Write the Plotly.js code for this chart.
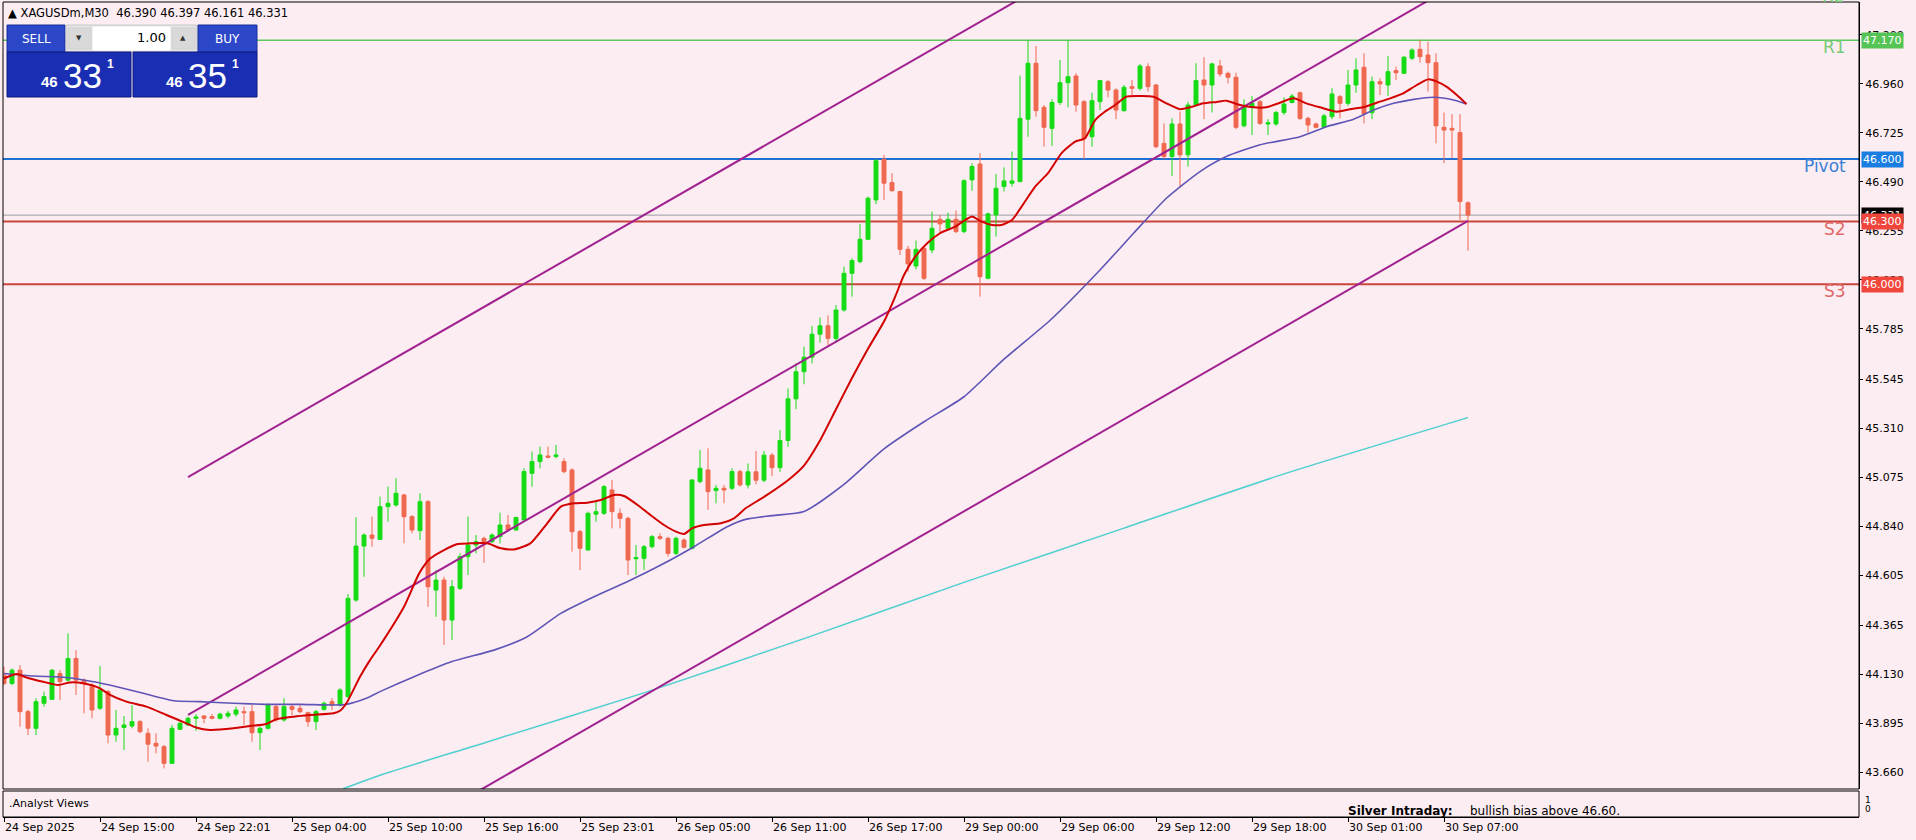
<!DOCTYPE html>
<html><head><meta charset="utf-8">
<script src="https://cdn.plot.ly/plotly-3.0.1.min.js"></script>
<style>html,body{margin:0;padding:0;background:#fcedf2;overflow:hidden}#chart{width:1916px;height:840px}</style>
</head><body><div id="chart"></div>
<script>
// ---------------- DATA ----------------
const opens  = [44.125,44.085,44.149,43.950,43.870,43.990,44.009,44.133,44.101,44.205,44.101,44.069,43.966,44.046,43.838,43.874,43.881,43.902,43.846,43.798,
43.782,43.702,43.865,43.886,43.918,43.929,43.926,43.918,43.929,43.938,43.950,43.950,43.849,43.870,43.974,43.910,43.974,43.966,43.945,43.902,
43.961,43.998,43.982,44.022,44.485,44.744,44.797,44.776,44.933,44.941,44.989,44.885,44.818,44.957,44.533,44.581,44.389,44.541,44.693,44.749,
44.781,44.765,44.789,44.845,44.821,44.869,45.093,45.149,45.176,45.173,45.149,45.109,44.813,44.725,44.897,44.901,45.013,44.901,44.877,44.683,
44.685,44.741,44.789,44.781,44.709,44.773,44.733,45.053,45.109,45.010,45.021,45.021,45.101,45.037,45.100,45.060,45.180,45.120,45.250,45.450,
45.580,45.650,45.760,45.800,45.740,45.876,46.052,46.108,46.215,46.404,46.599,46.487,46.444,46.167,46.087,46.172,46.164,46.311,46.268,46.311,
46.252,46.500,46.576,46.028,46.332,46.468,46.484,46.492,46.791,47.059,46.848,46.747,46.871,46.966,46.998,46.875,46.707,46.875,46.971,46.931,
46.832,46.947,46.939,47.043,46.955,46.675,46.612,46.768,46.620,46.859,46.979,46.955,47.046,47.011,46.992,46.759,46.848,46.875,46.768,46.768,
46.823,46.871,46.918,46.795,46.768,46.752,46.803,46.899,46.867,46.955,47.040,46.822,46.971,46.955,47.024,47.011,47.083,47.126,47.099,47.062,
46.752,46.747,46.727,46.390];
const highs  = [44.165,44.157,44.173,43.958,44.014,44.046,44.153,44.149,44.325,44.245,44.109,44.085,44.169,44.054,43.958,43.929,43.981,43.910,43.870,43.846,
43.790,43.886,43.902,43.926,43.938,43.934,43.938,43.945,43.954,43.974,43.974,43.982,43.878,43.990,43.982,44.014,43.982,43.982,43.950,43.958,
43.998,44.014,44.062,44.514,44.882,44.805,44.885,44.981,45.029,45.069,44.994,44.893,44.997,44.965,44.629,44.597,44.581,44.709,44.885,44.797,
44.789,44.805,44.904,44.893,44.885,45.117,45.197,45.221,45.221,45.229,45.165,45.117,44.821,44.909,44.965,45.037,45.061,44.925,44.885,44.749,
44.749,44.797,44.805,44.789,44.789,44.781,45.064,45.205,45.213,45.037,45.037,45.117,45.109,45.140,45.200,45.200,45.190,45.300,45.500,45.620,
45.700,45.800,45.840,45.850,45.900,46.084,46.124,46.289,46.420,46.599,46.620,46.532,46.448,46.183,46.209,46.180,46.348,46.332,46.343,46.353,
46.503,46.580,46.628,46.343,46.528,46.560,46.636,47.000,47.168,47.142,46.859,46.887,47.075,47.168,47.011,46.883,46.918,46.979,46.979,46.939,
46.955,46.979,47.056,47.059,46.960,46.771,46.795,46.827,46.875,47.059,47.088,47.062,47.075,47.019,47.014,46.886,46.902,46.883,46.791,46.832,
46.896,46.912,46.923,46.803,46.775,46.816,46.939,46.907,47.027,47.083,47.107,46.995,46.987,47.094,47.043,47.094,47.131,47.171,47.163,47.107,
46.823,46.816,46.816,46.397];
const lows   = [44.077,44.077,43.878,43.838,43.838,43.974,44.006,44.006,44.094,44.030,43.942,43.918,43.958,43.798,43.806,43.766,43.870,43.846,43.710,43.750,
43.678,43.699,43.862,43.881,43.858,43.894,43.913,43.913,43.918,43.926,43.886,43.806,43.766,43.865,43.902,43.902,43.934,43.942,43.878,43.862,
43.954,43.958,43.974,44.014,44.477,44.597,44.741,44.773,44.861,44.933,44.757,44.805,44.773,44.453,44.405,44.270,44.293,44.533,44.605,44.709,
44.664,44.757,44.757,44.813,44.818,44.866,45.029,45.117,45.165,45.165,45.093,44.717,44.629,44.722,44.861,44.893,44.829,44.829,44.605,44.605,
44.629,44.733,44.773,44.693,44.701,44.733,44.728,45.045,44.917,44.949,44.949,45.013,45.029,45.020,45.040,45.050,45.080,45.100,45.220,45.400,
45.520,45.620,45.720,45.700,45.720,45.868,45.940,46.100,46.212,46.384,46.404,46.444,46.140,46.060,46.071,46.020,46.148,46.244,46.260,46.244,
46.244,46.448,45.940,46.023,46.228,46.444,46.468,46.488,46.707,46.803,46.660,46.663,46.859,46.848,46.827,46.599,46.659,46.835,46.896,46.791,
46.827,46.907,46.928,46.923,46.652,46.599,46.519,46.468,46.564,46.851,46.791,46.823,46.995,46.963,46.743,46.752,46.715,46.763,46.715,46.759,
46.811,46.867,46.787,46.727,46.747,46.747,46.791,46.795,46.855,46.918,46.771,46.791,46.907,46.903,46.979,47.008,47.075,47.062,46.923,46.675,
46.580,46.604,46.308,46.161];
const closes = [44.085,44.149,43.950,43.870,43.998,44.022,44.149,44.094,44.205,44.101,44.085,43.958,44.054,43.838,43.870,43.886,43.902,43.854,43.794,43.785,
43.702,43.870,43.894,43.918,43.924,43.918,43.918,43.938,43.942,43.958,43.945,43.849,43.870,43.982,43.910,43.974,43.961,43.950,43.902,43.950,
43.990,43.982,44.054,44.493,44.744,44.797,44.781,44.933,44.949,44.997,44.885,44.821,44.957,44.549,44.581,44.389,44.549,44.693,44.749,44.765,
44.765,44.797,44.845,44.821,44.881,45.101,45.149,45.181,45.170,45.181,45.101,44.813,44.733,44.901,44.909,45.029,44.909,44.877,44.677,44.689,
44.741,44.789,44.781,44.709,44.781,44.738,45.061,45.117,45.005,45.021,45.013,45.101,45.037,45.100,45.060,45.180,45.120,45.250,45.450,45.580,
45.650,45.760,45.800,45.740,45.876,46.052,46.113,46.215,46.412,46.592,46.484,46.448,46.167,46.097,46.167,46.028,46.268,46.289,46.311,46.252,
46.496,46.564,46.036,46.337,46.460,46.495,46.495,46.795,47.059,46.832,46.752,46.871,46.966,46.995,46.859,46.699,46.880,46.976,46.931,46.835,
46.944,46.939,47.046,46.947,46.659,46.612,46.768,46.620,46.859,46.976,46.955,47.056,47.008,46.992,46.752,46.851,46.867,46.771,46.774,46.823,
46.864,46.902,46.795,46.763,46.752,46.807,46.912,46.867,46.955,47.027,46.816,46.971,46.960,47.019,47.014,47.088,47.123,47.091,47.062,46.759,
46.739,46.739,46.396,46.331];

// time-axis ticks (bar index of each label) and their labels
const timeTickIdx = [0,12,24,36,48,60,72,84,96,108,120,132,144,156,168,180];
const timeTickText = ['24 Sep 2025','24 Sep 15:00','24 Sep 22:01','25 Sep 04:00','25 Sep 10:00','25 Sep 16:00','25 Sep 23:01','26 Sep 05:00',
  '26 Sep 11:00','26 Sep 17:00','29 Sep 00:00','29 Sep 06:00','29 Sep 12:00','29 Sep 18:00','30 Sep 01:00','30 Sep 07:00'];

// price-axis ticks
const priceTicks = [47.195,46.960,46.725,46.490,46.255,46.020,45.785,45.545,45.310,45.075,44.840,44.605,44.365,44.130,43.895,43.660];
const priceTickText = ['47.200','46.960','46.725','46.490','46.255','46.020','45.785','45.545','45.310','45.075','44.840','44.605','44.365','44.130','43.895','43.660'];

// fast moving average (red)
const maFastX = [0,1.6,2.8,4.9,6.8,8.25,10,12,13.25,15.3,17.8,20.3,22.8,24,25.75,28.7,30.75,32.8,34,36.2,38.25,41.2,42,42.8,44.5,45.75,46.9,
  50,51.9,53.3,55,56.7,58.3,60.4,62.1,63.75,65.8,67.9,69.6,71.25,72.9,74.6,76.25,77.5,79.2,80.8,82.5,84,85,86,87.5,89.6,91.25,92.7,
  95,98,100,102,104,106,108,110.1,111.4,112.5,113.75,115.4,117,118.9,120.5,121,122.2,123.5,124.7,126,127.2,128.9,130.5,132.2,133.9,135.1,
  136.4,137.6,138.9,140.3,142,143.7,145.3,147,148.25,149.9,151.6,152.8,154.5,156.2,157.8,159.5,161.2,162.8,164.5,166.6,168.25,169.9,171.6,
  173.25,174.9,176.6,178,179.1,180.3,181.6,182.8];
const maFastY = [44.109,44.130,44.114,44.093,44.078,44.090,44.085,44.062,44.030,43.998,43.974,43.934,43.894,43.874,43.862,43.870,43.881,43.891,
  43.913,43.926,43.934,43.942,43.954,43.990,44.117,44.197,44.261,44.453,44.613,44.685,44.725,44.754,44.757,44.757,44.733,44.728,44.757,44.853,
  44.933,44.949,44.952,44.965,44.989,44.984,44.941,44.893,44.845,44.813,44.802,44.829,44.845,44.853,44.877,44.925,44.980,45.060,45.130,45.250,
  45.400,45.550,45.690,45.828,45.940,46.044,46.124,46.196,46.244,46.276,46.316,46.324,46.300,46.284,46.284,46.308,46.372,46.468,46.532,46.628,
  46.684,46.699,46.787,46.827,46.859,46.899,46.902,46.899,46.867,46.839,46.848,46.867,46.874,46.880,46.859,46.848,46.848,46.870,46.891,46.867,
  46.848,46.827,46.839,46.848,46.870,46.891,46.915,46.955,46.982,46.971,46.947,46.907,46.864];

// slow moving average (slate blue)
const maSlowX = [0,3.7,7.8,11.2,14.1,17.4,21.2,24.5,28.7,32.8,37,41.2,42.8,45.3,47,51.4,56,61.25,65.4,69.6,73.75,77.9,82.1,86.25,90.4,92.7,
  96,100,105,110,115,120,125,130.8,137,141.2,145.3,149.5,152.8,157,162,165.3,168.7,171.2,173.7,176.2,178.7,181.2,182.8];
const maSlowY = [44.133,44.121,44.114,44.093,44.069,44.038,44.002,43.998,43.990,43.985,43.985,43.982,43.985,44.014,44.046,44.120,44.190,44.245,
  44.309,44.421,44.501,44.573,44.653,44.741,44.837,44.872,44.890,44.910,45.040,45.210,45.340,45.460,45.640,45.828,46.068,46.244,46.412,46.540,
  46.612,46.668,46.707,46.755,46.791,46.835,46.867,46.886,46.896,46.883,46.864];

// long moving average (turquoise)
const maLongX = [42.4,47,60,80,100,120,140,160,183];
const maLongY = [43.580,43.645,43.800,44.040,44.300,44.570,44.830,45.090,45.360];

// regression channel (three parallel lines), endpoints in bar index / price
const channelUpperX = [23,130];   const channelUpperY = [45.075,47.434];
const channelMidX   = [23,183];   const channelMidY   = [43.934,47.470];
const channelLowX   = [55,183];   const channelLowY   = [43.474,46.303];

// pivot levels
const levelNames  = ['R1','Pivot','S2','S3'];
const levelValues = [47.170,46.600,46.300,46.000];
const levelColors = ['#5cc95c','#1f70d2','#c9463d','#c9463d'];
const levelText   = ['#76cb76','#3a80d6','#e06868','#e06868'];
const levelBoxes  = ['#55c455','#1a7ee0','#f0463c','#f0463c'];

const bidPrice = 46.331, askPrice = 46.351;
const symbolName = 'XAGUSDm,M30';
const viewTitle = 'Silver Intraday:', viewText = 'bullish bias above 46.60.';

// ---------------- GEOMETRY ----------------
const W=1916, H=840, ML=3, MR=57, MT=2, MB=23;
const PW=W-ML-MR, PH=H-MT-MB;
const px = x => (x-ML)/PW;
const py = y => (H-MB-y)/PH;
const barIdx = opens.map((_,i)=>i);
const fmt = v => v.toFixed(3);

const traces = [];
traces.push({type:'scatter',mode:'lines',x:maLongX,y:maLongY,line:{color:'#4fcfcf',width:1.5,shape:'spline',smoothing:0.6},hoverinfo:'skip'});
traces.push({type:'scatter',mode:'lines',x:channelUpperX,y:channelUpperY,line:{color:'#a0218f',width:2},hoverinfo:'skip'});
traces.push({type:'scatter',mode:'lines',x:channelMidX,y:channelMidY,line:{color:'#a0218f',width:2},hoverinfo:'skip'});
traces.push({type:'scatter',mode:'lines',x:channelLowX,y:channelLowY,line:{color:'#a0218f',width:2},hoverinfo:'skip'});
traces.push({type:'candlestick',x:barIdx,open:opens,high:highs,low:lows,close:closes,
  increasing:{line:{color:'#14dc14',width:1},fillcolor:'#14dc14'},
  decreasing:{line:{color:'#f0674f',width:1},fillcolor:'#f0674f'},
  whiskerwidth:0,hoverinfo:'skip'});
traces.push({type:'scatter',mode:'lines',x:maSlowX,y:maSlowY,line:{color:'#5f55b6',width:1.6,shape:'spline',smoothing:0.6},hoverinfo:'skip'});
traces.push({type:'scatter',mode:'lines',x:maFastX,y:maFastY,line:{color:'#d20000',width:2,shape:'spline',smoothing:0.6},hoverinfo:'skip'});
traces.push({type:'scatter',mode:'lines',x:[0,1],y:[-1,-1],xaxis:'x',yaxis:'y2',line:{color:'rgba(0,0,0,0)'},hoverinfo:'skip'});

const shapes = [];
shapes.push({type:'line',xref:'paper',x0:0,x1:1,yref:'y',y0:bidPrice,y1:bidPrice,line:{color:'#9a9aa6',width:1},layer:'below'});
levelValues.forEach((v,i)=>{
  shapes.push({type:'line',xref:'paper',x0:0,x1:1,yref:'y',y0:v,y1:v,line:{color:levelColors[i],width:i===0?1.5:2},layer:'below'});
});
shapes.push({type:'rect',xref:'paper',yref:'paper',x0:0,x1:1,y0:py(789),y1:1,line:{color:'#000',width:1},fillcolor:'rgba(0,0,0,0)'});
shapes.push({type:'rect',xref:'paper',yref:'paper',x0:0,x1:1,y0:0,y1:py(791),line:{color:'#000',width:1},fillcolor:'rgba(0,0,0,0)'});
function rectPx(x0,y0,x1,y1,fill,lc){shapes.push({type:'rect',xref:'paper',yref:'paper',x0:px(x0),x1:px(x1),y0:py(y1),y1:py(y0),
  fillcolor:fill,line:{color:lc||fill,width:1},layer:'above'});}
rectPx(7,25,65,52,'#2c48c8','#1b2f9c');
rectPx(66,25,197,52,'#e4e4e4','#c8c8c8');
rectPx(68,28,91,49,'#d9d9d9','#d0d0d0');
rectPx(93,27,170,50,'#ffffff','#ffffff');
rectPx(172,28,195,49,'#d9d9d9','#d0d0d0');
rectPx(198,25,257,52,'#2c48c8','#1b2f9c');
rectPx(7,52,131,97,'#1a2eb4','#0d1a80');
rectPx(133,52,257,97,'#1a2eb4','#0d1a80');

const ann = [];
function txt(x,y,t,opt){ann.push(Object.assign({xref:'paper',yref:'paper',x:px(x),y:py(y),text:t,showarrow:false,
  xanchor:'left',yanchor:'middle',font:{family:'DejaVu Sans',size:11,color:'#000'}},opt||{}));}
const last = opens.length-1;
txt(6,13,'▲ '+symbolName+'&nbsp;&nbsp;'+[opens[last],highs[last],lows[last],closes[last]].map(fmt).join(' '),{font:{family:'DejaVu Sans',size:11.5,color:'#000'}});
txt(36,39,'SELL',{xanchor:'center',font:{family:'DejaVu Sans',size:12,color:'#fff'}});
txt(227,39,'BUY',{xanchor:'center',font:{family:'DejaVu Sans',size:12,color:'#fff'}});
txt(168,38,'1.00',{xanchor:'right',font:{family:'DejaVu Sans',size:13,color:'#000'}});
txt(79,38,'▼',{xanchor:'center',font:{family:'DejaVu Sans',size:7,color:'#333'}});
txt(183,38,'▲',{xanchor:'center',font:{family:'DejaVu Sans',size:7,color:'#333'}});
function priceBox(val,x0){
  const s=fmt(val); const small=s.slice(0,2), big=s.slice(3,5), sup=s.slice(5);
  txt(x0,82,'<b>'+small+'</b>',{font:{family:'Liberation Sans',size:15,color:'#fff'}});
  txt(x0+22,75,big,{font:{family:'Liberation Sans',size:35,color:'#fff'}});
  txt(x0+66,64,'<b>'+sup+'</b>',{font:{family:'Liberation Sans',size:12,color:'#fff'}});
}
priceBox(bidPrice,39);
priceBox(askPrice,164);
txt(7,803,'.Analyst Views',{font:{family:'DejaVu Sans',size:11,color:'#000'}});
txt(1346,811,'<b>'+viewTitle+'</b>',{font:{family:'DejaVu Sans',size:12,color:'#000'}});
txt(1468,811,viewText,{font:{family:'DejaVu Sans',size:12,color:'#000'}});
txt(1863,800,'1',{font:{family:'DejaVu Sans',size:9,color:'#000'}});
txt(1863,809,'0',{font:{family:'DejaVu Sans',size:9,color:'#000'}});
txt(1847,-4,'R2',{xanchor:'right',font:{family:'DejaVu Sans',size:17,color:'#76cb76'}});
levelValues.forEach((v,i)=>{
  ann.push({xref:'paper',yref:'y',x:px(1848),y:v,yshift:-7,text:levelNames[i],showarrow:false,xanchor:'right',yanchor:'middle',
    font:{family:'DejaVu Sans',size:17,color:levelText[i]}});
});
function axisBox(v,bg){ann.push({xref:'paper',yref:'y',x:1,xshift:2,y:v,text:fmt(v),showarrow:false,xanchor:'left',yanchor:'middle',
  bgcolor:bg,borderpad:1,font:{family:'DejaVu Sans',size:11,color:'#fff'}});}
axisBox(levelValues[0],levelBoxes[0]);
axisBox(levelValues[1],levelBoxes[1]);
axisBox(bidPrice,'#000000');
axisBox(levelValues[2],levelBoxes[2]);
axisBox(levelValues[3],levelBoxes[3]);

const layout = {
  width:W,height:H,margin:{l:ML,r:MR,t:MT,b:MB,pad:0},
  paper_bgcolor:'#fcedf2',plot_bgcolor:'#fcedf2',showlegend:false,
  font:{family:'DejaVu Sans',size:11,color:'#000'},
  xaxis:{range:[-0.125,231.875],anchor:'y2',tickmode:'array',tickvals:timeTickIdx,ticktext:timeTickText,ticks:'outside',ticklen:4,
    tickcolor:'#000',showgrid:false,zeroline:false,showline:true,linecolor:'#000',ticklabelposition:'outside right',
    rangeslider:{visible:false},fixedrange:true,tickfont:{family:'DejaVu Sans',size:11,color:'#000'}},
  yaxis:{domain:[py(789),1],range:[43.579,47.353],side:'right',anchor:'x',tickmode:'array',tickvals:priceTicks,ticktext:priceTickText,
    ticks:'outside',ticklen:3,tickcolor:'#000',showgrid:false,zeroline:false,showline:true,linecolor:'#000',fixedrange:true,
    tickfont:{family:'DejaVu Sans',size:11,color:'#000'}},
  yaxis2:{domain:[0,py(791)],range:[0,1],anchor:'x',showticklabels:false,showgrid:false,zeroline:false,ticks:'',fixedrange:true},
  shapes:shapes,annotations:ann,hovermode:false
};
Plotly.newPlot('chart',traces,layout,{displayModeBar:false,staticPlot:true});
</script>
</body></html>
